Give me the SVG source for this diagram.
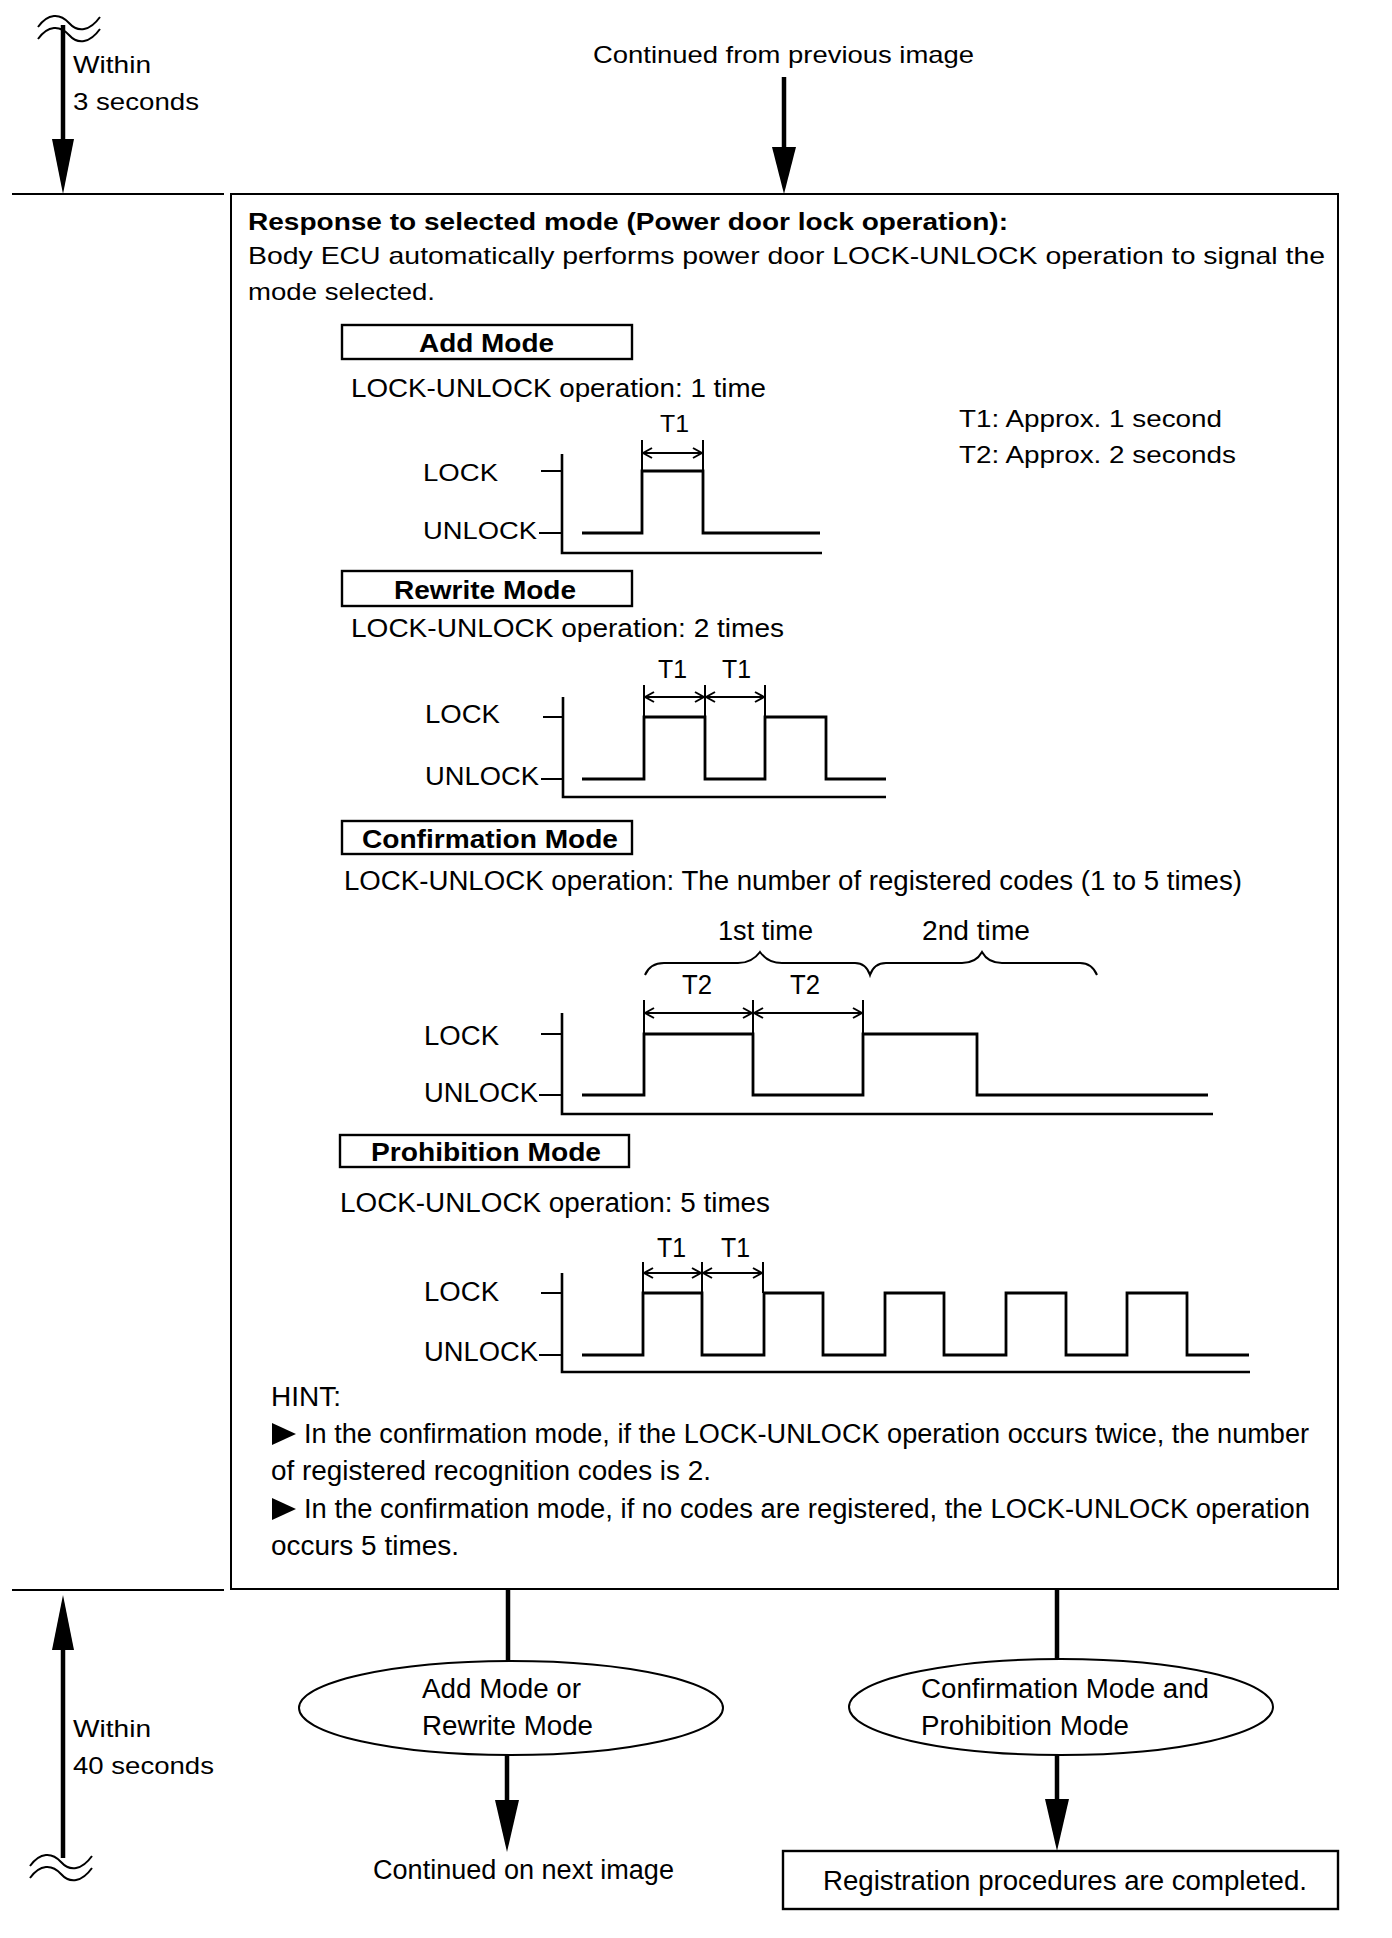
<svg xmlns="http://www.w3.org/2000/svg" width="1392" height="1938" viewBox="0 0 1392 1938">
<style>
text{font-family:"Liberation Sans",Arial,sans-serif;font-size:24px;fill:#000}
.b{font-weight:bold}
.s{font-size:25px}
.n{font-size:27px}
.ln{fill:none;stroke:#000;stroke-width:2}
.sig{fill:none;stroke:#000;stroke-width:2.8}
.ax{fill:none;stroke:#000;stroke-width:2.6}
.thick{fill:none;stroke:#000;stroke-width:4.5}
.box{fill:none;stroke:#000;stroke-width:2.4}
.dim{fill:none;stroke:#000;stroke-width:2;marker-start:url(#oa);marker-end:url(#oa)}
.wave{fill:none;stroke:#000;stroke-width:2}
</style>
<defs>
<marker id="oa" viewBox="0 0 12 12" refX="11" refY="6" markerWidth="12" markerHeight="12" markerUnits="userSpaceOnUse" orient="auto-start-reverse">
<polyline points="2,1 11,6 2,11" fill="none" stroke="#000" stroke-width="2"/>
</marker>
</defs>
<rect width="1392" height="1938" fill="#fff"/>

<g id="connectors">
<path class="wave" d="M38,27 c10,-14 22,-14 31,-4 s21,8 31,-6"/>
<path class="wave" d="M38,39 c10,-14 22,-14 31,-4 s21,8 31,-6"/>
<line class="thick" x1="63" y1="25" x2="63" y2="142"/>
<polygon points="52,139 74,139 63,194"/>
<line class="ln" x1="12" y1="194" x2="224" y2="194"/>
<line class="thick" x1="784" y1="77" x2="784" y2="150"/>
<polygon points="772,147 796,147 784,194"/>
<line class="ln" x1="12" y1="1590" x2="224" y2="1590"/>
<polygon points="52,1650 74,1650 63,1595"/>
<line class="thick" x1="63" y1="1646" x2="63" y2="1858"/>
<path class="wave" d="M30,1866 c10,-14 22,-14 31,-4 s21,8 31,-6"/>
<path class="wave" d="M30,1878 c10,-14 22,-14 31,-4 s21,8 31,-6"/>
<line class="thick" x1="508" y1="1589" x2="508" y2="1661"/>
<line class="thick" x1="1057" y1="1589" x2="1057" y2="1659"/>
<line class="thick" x1="507" y1="1755" x2="507" y2="1803"/>
<polygon points="495,1800 519,1800 507,1852"/>
<line class="thick" x1="1057" y1="1755" x2="1057" y2="1802"/>
<polygon points="1045,1799 1069,1799 1057,1851"/>
</g>

<g id="timing-top">
<text x="73" y="73" textLength="78" lengthAdjust="spacingAndGlyphs">Within</text>
<text x="73" y="110" textLength="126" lengthAdjust="spacingAndGlyphs">3 seconds</text>
</g>
<g id="continued-from">
<text x="593" y="63" textLength="381" lengthAdjust="spacingAndGlyphs">Continued from previous image</text>
</g>

<g id="main-box">
<rect class="ln" x="231" y="194" width="1107" height="1395"/>
<text class="b" x="248" y="230" textLength="760" lengthAdjust="spacingAndGlyphs">Response to selected mode (Power door lock operation):</text>
<text x="248" y="264" textLength="1077" lengthAdjust="spacingAndGlyphs">Body ECU automatically performs power door LOCK-UNLOCK operation to signal the</text>
<text x="248" y="300" textLength="187" lengthAdjust="spacingAndGlyphs">mode selected.</text>
<text x="959" y="427" textLength="263" lengthAdjust="spacingAndGlyphs">T1: Approx. 1 second</text>
<text x="959" y="463" textLength="277" lengthAdjust="spacingAndGlyphs">T2: Approx. 2 seconds</text>
</g>

<g id="add-mode">
<rect class="box" x="342" y="325" width="290" height="34"/>
<text class="b s" x="419" y="352" textLength="135" lengthAdjust="spacingAndGlyphs">Add Mode</text>
<text class="s" x="351" y="397" textLength="415" lengthAdjust="spacingAndGlyphs">LOCK-UNLOCK  operation: 1 time</text>
<text x="660" y="432" textLength="29" lengthAdjust="spacingAndGlyphs">T1</text>
<line class="ln" x1="642" y1="440" x2="642" y2="471"/>
<line class="ln" x1="703" y1="440" x2="703" y2="471"/>
<line class="dim" x1="643" y1="453" x2="702" y2="453"/>
<text x="423" y="481" textLength="75" lengthAdjust="spacingAndGlyphs">LOCK</text>
<text x="423" y="539" textLength="114" lengthAdjust="spacingAndGlyphs">UNLOCK</text>
<line class="ln" x1="541" y1="471" x2="562" y2="471"/>
<line class="ln" x1="539" y1="533" x2="562" y2="533"/>
<polyline class="ax" points="562,454 562,553 822,553"/>
<polyline class="sig" points="582,533 642,533 642,471 703,471 703,533 820,533"/>
</g>

<g id="rewrite-mode">
<rect class="box" x="342" y="571" width="290" height="35"/>
<text class="b s" x="394" y="599" textLength="182" lengthAdjust="spacingAndGlyphs">Rewrite Mode</text>
<text class="s" x="351" y="637" textLength="433" lengthAdjust="spacingAndGlyphs">LOCK-UNLOCK  operation: 2 times</text>
<text class="s" x="658" y="678" textLength="29" lengthAdjust="spacingAndGlyphs">T1</text>
<text class="s" x="722" y="678" textLength="29" lengthAdjust="spacingAndGlyphs">T1</text>
<line class="ln" x1="644" y1="685" x2="644" y2="717"/>
<line class="ln" x1="705" y1="685" x2="705" y2="717"/>
<line class="ln" x1="765" y1="685" x2="765" y2="717"/>
<line class="dim" x1="645" y1="697" x2="704" y2="697"/>
<line class="dim" x1="706" y1="697" x2="764" y2="697"/>
<text class="s" x="425" y="723" textLength="75" lengthAdjust="spacingAndGlyphs">LOCK</text>
<text class="s" x="425" y="785" textLength="114" lengthAdjust="spacingAndGlyphs">UNLOCK</text>
<line class="ln" x1="543" y1="717" x2="563" y2="717"/>
<line class="ln" x1="541" y1="779" x2="563" y2="779"/>
<polyline class="ax" points="563,697 563,797 886,797"/>
<polyline class="sig" points="582,779 644,779 644,717 705,717 705,779 765,779 765,717 826,717 826,779 886,779"/>
</g>

<g id="confirmation-mode">
<rect class="box" x="342" y="821" width="290" height="33"/>
<text class="b s" x="362" y="848" textLength="256" lengthAdjust="spacingAndGlyphs">Confirmation Mode</text>
<text class="n" x="344" y="890" textLength="898" lengthAdjust="spacingAndGlyphs">LOCK-UNLOCK operation: The number of registered codes (1 to 5 times)</text>
<text class="n" x="718" y="940" textLength="95" lengthAdjust="spacingAndGlyphs">1st time</text>
<text class="n" x="922" y="940" textLength="108" lengthAdjust="spacingAndGlyphs">2nd time</text>
<path class="ln" d="M645,975 Q650,963 664,963 L738,963 Q752,963 760,952 Q768,963 782,963 L855,963 Q866,963 870,975 Q874,963 886,963 L962,963 Q976,963 982,952 Q988,963 1002,963 L1080,963 Q1092,963 1097,975"/>
<text class="n" x="682" y="994" textLength="30" lengthAdjust="spacingAndGlyphs">T2</text>
<text class="n" x="790" y="994" textLength="30" lengthAdjust="spacingAndGlyphs">T2</text>
<line class="ln" x1="644" y1="1000" x2="644" y2="1034"/>
<line class="ln" x1="753" y1="1000" x2="753" y2="1034"/>
<line class="ln" x1="863" y1="1000" x2="863" y2="1034"/>
<line class="dim" x1="645" y1="1013" x2="752" y2="1013"/>
<line class="dim" x1="754" y1="1013" x2="862" y2="1013"/>
<text class="n" x="424" y="1045" textLength="75" lengthAdjust="spacingAndGlyphs">LOCK</text>
<text class="n" x="424" y="1102" textLength="114" lengthAdjust="spacingAndGlyphs">UNLOCK</text>
<line class="ln" x1="541" y1="1034" x2="562" y2="1034"/>
<line class="ln" x1="539" y1="1095" x2="562" y2="1095"/>
<polyline class="ax" points="562,1013 562,1114 1213,1114"/>
<polyline class="sig" points="582,1095 644,1095 644,1034 753,1034 753,1095 863,1095 863,1034 977,1034 977,1095 1208,1095"/>
</g>

<g id="prohibition-mode">
<rect class="box" x="340" y="1135" width="289" height="32"/>
<text class="b s" x="371" y="1161" textLength="230" lengthAdjust="spacingAndGlyphs">Prohibition Mode</text>
<text class="n" x="340" y="1212" textLength="430" lengthAdjust="spacingAndGlyphs">LOCK-UNLOCK  operation: 5 times</text>
<text class="n" x="657" y="1257" textLength="29" lengthAdjust="spacingAndGlyphs">T1</text>
<text class="n" x="721" y="1257" textLength="29" lengthAdjust="spacingAndGlyphs">T1</text>
<line class="ln" x1="643" y1="1262" x2="643" y2="1293"/>
<line class="ln" x1="702" y1="1262" x2="702" y2="1293"/>
<line class="ln" x1="763" y1="1262" x2="763" y2="1293"/>
<line class="dim" x1="644" y1="1273" x2="701" y2="1273"/>
<line class="dim" x1="703" y1="1273" x2="762" y2="1273"/>
<text class="n" x="424" y="1301" textLength="75" lengthAdjust="spacingAndGlyphs">LOCK</text>
<text class="n" x="424" y="1361" textLength="114" lengthAdjust="spacingAndGlyphs">UNLOCK</text>
<line class="ln" x1="541" y1="1293" x2="562" y2="1293"/>
<line class="ln" x1="539" y1="1355" x2="562" y2="1355"/>
<polyline class="ax" points="562,1273 562,1372 1250,1372"/>
<polyline class="sig" points="582,1355 643,1355 643,1293 702,1293 702,1355 764,1355 764,1293 823,1293 823,1355 885,1355 885,1293 944,1293 944,1355 1006,1355 1006,1293 1066,1293 1066,1355 1127,1355 1127,1293 1187,1293 1187,1355 1249,1355"/>
</g>

<g id="hint">
<text class="n" x="271" y="1406" textLength="70" lengthAdjust="spacingAndGlyphs">HINT:</text>
<polygon points="272,1423 296,1434 272,1445"/>
<text class="n" x="304" y="1443" textLength="1005" lengthAdjust="spacingAndGlyphs">In the confirmation mode, if the LOCK-UNLOCK operation occurs twice, the number</text>
<text class="n" x="271" y="1480" textLength="440" lengthAdjust="spacingAndGlyphs">of registered recognition codes is 2.</text>
<polygon points="272,1498 296,1509 272,1520"/>
<text class="n" x="304" y="1518" textLength="1006" lengthAdjust="spacingAndGlyphs">In the confirmation mode, if no codes are registered, the LOCK-UNLOCK operation</text>
<text class="n" x="271" y="1555" textLength="188" lengthAdjust="spacingAndGlyphs">occurs 5 times.</text>
</g>

<g id="timing-bottom">
<text x="73" y="1737" textLength="78" lengthAdjust="spacingAndGlyphs">Within</text>
<text x="73" y="1774" textLength="141" lengthAdjust="spacingAndGlyphs">40 seconds</text>
</g>

<g id="add-rewrite-node">
<ellipse class="ln" cx="511" cy="1708" rx="212" ry="47"/>
<text class="n" x="422" y="1698" textLength="159" lengthAdjust="spacingAndGlyphs">Add Mode or</text>
<text class="n" x="422" y="1735" textLength="171" lengthAdjust="spacingAndGlyphs">Rewrite Mode</text>
</g>

<g id="confirm-prohibit-node">
<ellipse class="ln" cx="1061" cy="1707" rx="212" ry="48"/>
<text class="n" x="921" y="1698" textLength="288" lengthAdjust="spacingAndGlyphs">Confirmation Mode and</text>
<text class="n" x="921" y="1735" textLength="208" lengthAdjust="spacingAndGlyphs">Prohibition Mode</text>
</g>

<g id="continued-next">
<text class="n" x="373" y="1879" textLength="301" lengthAdjust="spacingAndGlyphs">Continued on next image</text>
</g>

<g id="completed-node">
<rect class="box" x="783" y="1851" width="555" height="58"/>
<text class="n" x="823" y="1890" textLength="484" lengthAdjust="spacingAndGlyphs">Registration procedures are completed.</text>
</g>
</svg>
